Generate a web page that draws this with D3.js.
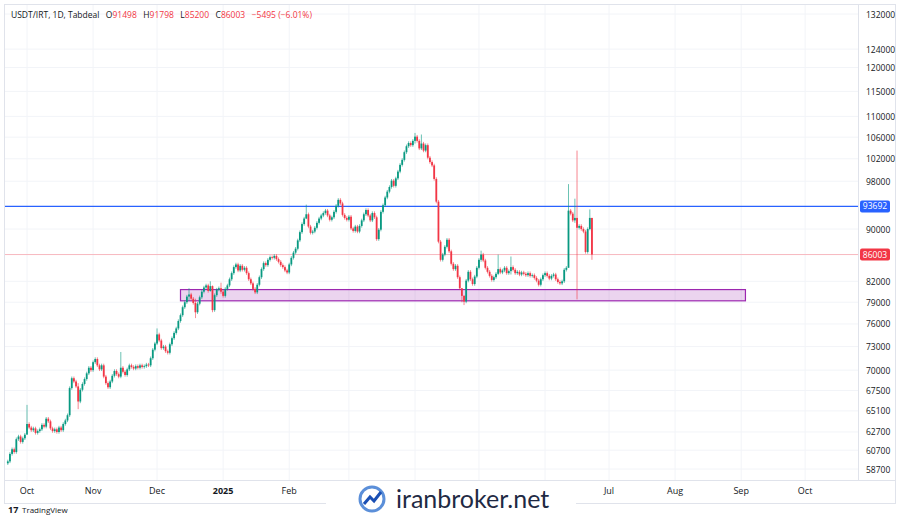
<!DOCTYPE html>
<html><head><meta charset="utf-8">
<script src="https://cdn.jsdelivr.net/npm/d3@7"></script>
<style>body{margin:0;background:#fff;font-family:"Open Sans",Roboto,sans-serif}</style>
</head><body><svg id="c" width="900" height="520"></svg>
<script>
// daily closes (thousands IRT), starting 2024-09-22
const closes = [59.5,60.3,60.8,60.5, 61.9,62.2,61.6,62.0,62.4, 63.6,63.2,62.9,63.1, 62.6,62.8,63.0,63.5,63.3,
 64.2,63.9,63.1,62.8,63.0, 62.7,63.2,62.9,63.6,64.0,64.6, 67.8,69.0,68.6, 68.0,66.2,67.6,68.3,
 68.9,69.6,70.3,70.0,71.0, 71.4,70.6,70.1,70.6, 69.2,68.4,67.9,68.6,69.3,69.9, 69.5,69.2,70.3,69.8,69.4,
 70.1,70.6,70.4,70.2,70.5,70.3,70.6,70.4,70.5,70.7,70.6, 71.5,72.6,73.4,74.6,73.8,72.8, 73.0,72.4,72.2,73.3,
 74.1,74.8,75.4,76.4,77.2,78.3, 79.0,79.8,80.1,79.5, 78.9,77.6,78.8,79.7, 80.5,81.1,81.4,80.6,
 81.3,77.9,80.0,80.8, 81.0,80.5,79.9,80.9,81.4, 82.3,83.2,84.1,84.5,83.6, 84.3,83.7,84.0,83.2,82.3,
 81.7,80.9,80.4,81.5, 82.6,83.8,84.7,84.4,85.2,85.6, 85.5,85.8,85.3,84.9,84.4, 84.1,83.6,83.3,84.5,
 85.5,86.3,86.9,88.2, 89.5,90.8,91.7,92.4, 90.4,89.4,89.6,90.2, 91.0,91.7,92.2,92.6,93.0, 92.2,91.5,91.9,92.8,
 93.8,94.8,94.2, 92.3,91.8,91.5,92.0, 90.1,89.7,90.4, 89.6,90.5,91.4,92.4,93.1, 92.2,91.4,92.6,91.9, 88.4,89.9,
 92.8,93.9,95.2,96.2, 97.0,98.1,97.2,98.5, 99.7,100.9,101.8,103.2, 104.3,104.9,104.5,105.3, 106.1,105.3,103.9,
 104.8,103.5,104.5, 102.2,101.4,100.8, 98.4,94.5,88.0, 85.2,86.0,87.2,88.3, 86.5,84.6,83.8,84.3,
 82.6,81.0,79.9,79.1, 82.1,83.4,82.3,81.6, 82.7,84.0,85.2,86.0, 85.1,84.0,83.4,82.8, 82.2,82.6,83.1,83.8,
 83.3,83.6,84.0,83.2,83.5,84.1, 83.7,83.2,83.4,83.0,83.3, 83.1,82.9,83.2,82.8,82.9, 82.5,82.1,81.5,82.3,
 82.9,83.2,82.8,82.4, 82.8,83.0,82.3,81.9, 81.7,82.0,83.7, 84.0,93.0, 92.5,91.4,91.8, 90.2, 90.5,90.0,89.6,
 86.4,90.0,91.8,86.003];
// notable wicks: index -> [high, low] (thousands)
const wicks = {9:[65.8,62.9],33:[68.4,65.3],53:[72.3,69.0],70:[75.4,73.2],85:[81.0,79.2],88:[79.5,76.8],
 95:[82.0,80.5],96:[81.4,77.6],100:[81.8,80.2],140:[94.0,91.6],191:[106.8,104.8],194:[106.5,103.6],
 213:[80.2,79.0],214:[80.0,78.6],222:[86.6,84.9],230:[86.0,82.9],236:[85.7,83.0],263:[97.5,84.0],
 266:[95.0,91.0],267:[103.5,79.4],273:[93.2,89.8],274:[91.8,85.2]};
const firstOpen = 59.3;
const yTicks = [132000,124000,120000,115000,110000,106000,102000,98000,90000,82000,79000,76000,73000,70000,67500,65100,62700,60700,58700];
const monthLabels = ["Oct","Nov","Dec","2025","Feb","","","","","Jul","Aug","Sep","Oct"];
const resistance = 93692, lastPrice = 86003;
const zone = {start:"2024-12-12", end:"2025-09-03", top:80800, bottom:79200};

const svg = d3.select("#c");
const start = new Date(Date.UTC(2024,8,22));
const day = 864e5;
const x = d3.scaleUtc().domain([new Date(Date.UTC(2024,9,1)), new Date(Date.UTC(2025,6,1))]).range([27,609]);
const y = d3.scaleLog().domain([58700,132000]).range([469,14]);
const R = 858, B = 480;

svg.append("rect").attr("x",4.5).attr("y",4.5).attr("width",891).attr("height",499).attr("fill","none").attr("stroke","#e0e3eb");
const months = d3.range(13).map(i=>new Date(Date.UTC(2024,9+i,1)));
svg.append("g").selectAll("line").data(months).join("line")
 .attr("x1",d=>x(d)).attr("x2",d=>x(d)).attr("y1",5).attr("y2",B).attr("stroke","#f2f4f8");
svg.append("g").selectAll("line").data(yTicks).join("line")
 .attr("x1",5).attr("x2",R).attr("y1",d=>y(d)).attr("y2",d=>y(d)).attr("stroke","#f2f4f8");
svg.append("line").attr("x1",R+.5).attr("x2",R+.5).attr("y1",5).attr("y2",B).attr("stroke","#e0e3eb");
svg.append("line").attr("x1",5).attr("x2",895).attr("y1",B+.5).attr("y2",B+.5).attr("stroke","#e0e3eb");
svg.append("g").selectAll("text").data(yTicks).join("text")
 .attr("x",866).attr("y",d=>y(d)+3.5).attr("font-size",8.5).attr("fill","#131722").text(d=>d);
svg.append("g").selectAll("text").data(months.filter((d,i)=>monthLabels[i])).join("text")
 .attr("x",d=>x(d)).attr("y",494).attr("text-anchor","middle").attr("font-size",9).attr("fill","#131722")
 .attr("font-weight",d=>d.getUTCMonth()===0?"bold":null)
 .text(d=>monthLabels[months.findIndex(m=>+m===+d)]);

svg.append("rect").attr("x",x(new Date(zone.start))).attr("width",x(new Date(zone.end))-x(new Date(zone.start)))
 .attr("y",y(zone.top)).attr("height",y(zone.bottom)-y(zone.top))
 .attr("fill","rgba(156,39,176,0.2)").attr("stroke","#9c27b0").attr("stroke-width",1.2);
svg.append("line").attr("x1",5).attr("x2",R).attr("y1",y(lastPrice)).attr("y2",y(lastPrice)).attr("stroke","#f7b8bf").attr("stroke-width",1);
svg.append("line").attr("x1",5).attr("x2",R).attr("y1",y(resistance)).attr("y2",y(resistance)).attr("stroke","#2962ff").attr("stroke-width",1.3);

const data = closes.map((c,i)=>{
  const o = i===0?firstOpen:closes[i-1];
  const w = wicks[i];
  const hi = w?w[0]:Math.max(o,c)*1.003, lo = w?w[1]:Math.min(o,c)*0.997;
  return {d:new Date(start.getTime()+i*day), o:o*1000, c:c*1000, h:hi*1000, l:lo*1000};
});
const g = svg.append("g");
data.forEach(d=>{
  const col = d.c>=d.o?"#089981":"#f23645";
  const cx = x(d.d);
  g.append("line").attr("x1",cx).attr("x2",cx).attr("y1",y(d.h)).attr("y2",y(d.l)).attr("stroke",col).attr("stroke-width",0.8).attr("opacity",0.75);
  const y0 = y(Math.max(d.o,d.c)), y1 = y(Math.min(d.o,d.c));
  g.append("rect").attr("x",cx-0.9).attr("width",1.8).attr("y",y0).attr("height",Math.max(0.8,y1-y0)).attr("fill",col);
});

function tag(v,col){
  svg.append("rect").attr("x",R+2).attr("y",y(v)-6).attr("width",30).attr("height",12).attr("rx",2).attr("fill",col);
  svg.append("text").attr("x",R+17).attr("y",y(v)+3).attr("text-anchor","middle").attr("font-size",8.5).attr("fill","#fff").text(v);
}
tag(resistance,"#2962ff"); tag(lastPrice,"#f23645");

const hd = svg.append("text").attr("x",11).attr("y",18).attr("font-size",8.5).attr("fill","#131722").attr("xml:space","preserve");
const red="#f23645";
hd.append("tspan").text("USDT/IRT, 1D, Tabdeal\u2002 O");
[["91498","\u2002 H"],["91798","\u2002 L"],["85200","\u2002 C"],["86003",""]].forEach(([v,n])=>{
  hd.append("tspan").attr("fill",red).text(v); if(n) hd.append("tspan").text(n);
});
hd.append("tspan").attr("fill",red).text("\u2002 −5495 (−6.01%)");

svg.append("rect").attr("x",326).attr("y",481).attr("width",250).attr("height",38).attr("fill","#fff");
const wm = svg.append("g").attr("transform","translate(372,499)");
wm.append("circle").attr("r",12).attr("fill","none").attr("stroke","#5b8fd9").attr("stroke-width",3);
wm.append("path").attr("d","M-8,5 L-2,-2 L2,2 L9,-7").attr("fill","none").attr("stroke","#1a4fb4").attr("stroke-width",3);
svg.append("text").attr("x",396).attr("y",508).attr("font-size",25).attr("fill","#1f2a44").attr("font-family","Lato, sans-serif").text("iranbroker.net");
svg.append("text").attr("x",8).attr("y",513).attr("font-size",9).attr("font-weight","bold").attr("fill","#131722").text("17");
svg.append("text").attr("x",22).attr("y",513).attr("font-size",8).attr("fill","#131722").text("TradingView");
</script></body></html>
